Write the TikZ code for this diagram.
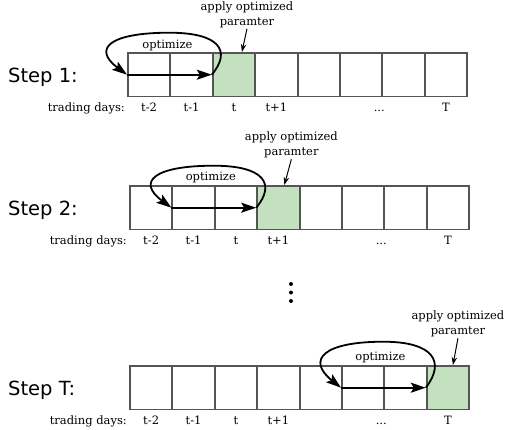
\documentclass[tikz,border=0pt]{standalone}
\usepackage{fontspec}
\setmainfont{DejaVu Serif}
\newfontfamily\stepfont{DejaVu Sans}
\usetikzlibrary{arrows.meta,calc}
\definecolor{cellgreen}{HTML}{C4E1BF}
\definecolor{cellgray}{HTML}{555555}
\begin{document}
\begin{tikzpicture}[x=1pt,y=-1pt,
  cell/.style={draw=cellgray,line width=1.9pt,minimum width=42.4pt,minimum height=43.5pt,inner sep=0pt,anchor=north west},
  greencell/.style={cell,fill=cellgreen},
  lab/.style={font=\fontsize{11.5}{14}\selectfont,anchor=base,inner sep=0pt},
  steplab/.style={font=\stepfont\fontsize{19.5}{22}\selectfont,anchor=base west,inner sep=0pt},
  apply/.style={font=\fontsize{11.5}{15}\selectfont,align=center,inner sep=1pt},
  opt/.style={font=\fontsize{11.5}{14}\selectfont,inner sep=0pt},
  bigarrow/.style={line width=1.8pt,-{Stealth[length=15pt,width=10pt,inset=3pt]}},
  thinarrow/.style={line width=1pt,-{Stealth[length=8pt,width=5.5pt]}}
]
\useasboundingbox (0,0) rectangle (511,429);

% ---------- Step 1 ----------
\foreach \i/\s in {1/cell,2/cell,3/greencell,4/cell,5/cell,6/cell,7/cell,8/cell}
  \node[\s] (a\i) at ({127+42.4*(\i-1)},52) {};
\node[steplab] (s1) at (8,82) {Step 1:};
\node[lab,anchor=base east] (td1) at ($(a1.south west)+(-2,14)$) {trading days:};
\node[lab] (a1l) at ($(a1.south)+(0,14)$) {t-2};
\node[lab] (a2l) at ($(a2.south)+(0,14)$) {t-1};
\node[lab] (a3l) at ($(a3.south)+(0,14)$) {t};
\node[lab] (a4l) at ($(a4.south)+(0,14)$) {t+1};
\node[lab] (a6l) at ($(a6.south east)+(-4,14)$) {...};
\node[lab] (a8l) at ($(a8.south)+(0,14)$) {T};
\draw[bigarrow] (a1.west) -- (a3.west);
\draw[bigarrow] (a3.west) .. controls +(20,-24) and +(50,0) .. ($(a1.west)!0.5!(a3.west)+(0,-42)$) .. controls +(-60,0) and +(-35,-26) .. (a1.west);
\node[opt] (o1) at ($(a1.west)!0.5!(a3.west)+(-2,-29)$) {optimize};
\node[apply] (p1) at ($(a3.north)+(13,-37.5)$) {apply optimized\\paramter};
\coordinate (q1) at ($(a3.north)+(8,0)$);
\draw[thinarrow] (p1.south) -- (q1);

% ---------- Step 2 ----------
\foreach \i/\s in {1/cell,2/cell,3/cell,4/greencell,5/cell,6/cell,7/cell,8/cell}
  \node[\s] (b\i) at ({129+42.4*(\i-1)},185) {};
\node[steplab] (s2) at (8,215) {Step 2:};
\node[lab,anchor=base east] (td2) at ($(b1.south west)+(-2,14)$) {trading days:};
\node[lab] (b1l) at ($(b1.south)+(0,14)$) {t-2};
\node[lab] (b2l) at ($(b2.south)+(0,14)$) {t-1};
\node[lab] (b3l) at ($(b3.south)+(0,14)$) {t};
\node[lab] (b4l) at ($(b4.south)+(0,14)$) {t+1};
\node[lab] (b6l) at ($(b6.south east)+(-4,14)$) {...};
\node[lab] (b8l) at ($(b8.south)+(0,14)$) {T};
\draw[bigarrow] (b2.west) -- (b4.west);
\draw[bigarrow] (b4.west) .. controls +(20,-24) and +(50,0) .. ($(b2.west)!0.5!(b4.west)+(0,-42)$) .. controls +(-60,0) and +(-35,-26) .. (b2.west);
\node[opt] (o2) at ($(b2.west)!0.5!(b4.west)+(-3,-30)$) {optimize};
\node[apply] (p2) at ($(b4.north)+(13,-40)$) {apply optimized\\paramter};
\coordinate (q2) at ($(b4.north)+(6,0)$);
\draw[thinarrow] (p2.south) -- (q2);

% ---------- dots ----------
\fill (291,284) circle (2pt);
\fill (291,292.5) circle (2pt);
\fill (291,301) circle (2pt);

% ---------- Step T ----------
\foreach \i/\s in {1/cell,2/cell,3/cell,4/cell,5/cell,6/cell,7/cell,8/greencell}
  \node[\s] (c\i) at ({129+42.4*(\i-1)},365) {};
\node[steplab] (s3) at (8,395.5) {Step T:};
\node[lab,anchor=base east] (td3) at ($(c1.south west)+(-2,14)$) {trading days:};
\node[lab] (c1l) at ($(c1.south)+(0,14)$) {t-2};
\node[lab] (c2l) at ($(c2.south)+(0,14)$) {t-1};
\node[lab] (c3l) at ($(c3.south)+(0,14)$) {t};
\node[lab] (c4l) at ($(c4.south)+(0,14)$) {t+1};
\node[lab] (c6l) at ($(c6.south east)+(-4,14)$) {...};
\node[lab] (c8l) at ($(c8.south)+(0,14)$) {T};
\draw[bigarrow] (c6.west) -- (c8.west);
\draw[bigarrow] (c8.west) .. controls +(20,-26) and +(50,0) .. ($(c6.west)!0.5!(c8.west)+(0,-46)$) .. controls +(-60,0) and +(-35,-28) .. (c6.west);
\node[opt] (o3) at ($(c6.west)!0.5!(c8.west)+(-3,-30)$) {optimize};
\node[apply] (p3) at ($(c8.north)+(10,-41)$) {apply optimized\\paramter};
\coordinate (q3) at ($(c8.north)+(5,0)$);
\draw[thinarrow] (p3.south) -- (q3);
\end{tikzpicture}
\end{document}
